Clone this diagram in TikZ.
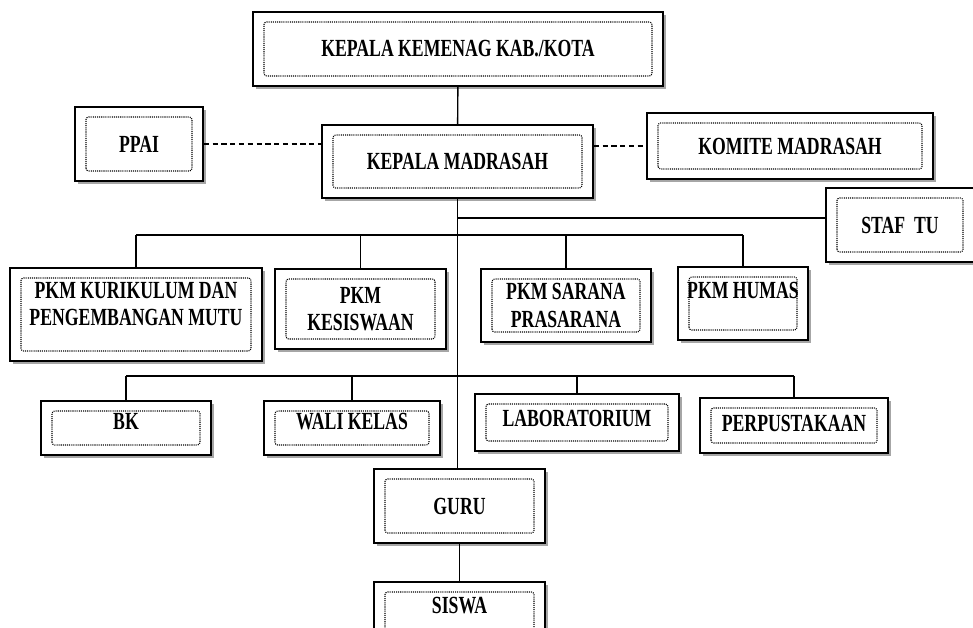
\documentclass[tikz,border=0pt]{standalone}
\usepackage{fontspec}
\setmainfont{Liberation Serif}[FakeStretch=0.72]
\usetikzlibrary{shadows,calc}

\begin{document}
\begin{tikzpicture}[x=0.02cm,y=-0.02cm]
\tikzset{kotak/.style={draw, line width=0.9pt, fill=white, rectangle, align=center, inner sep=0pt,
    font=\fontsize{14}{15.5}\selectfont\bfseries,
    drop shadow={shadow xshift=0.06cm, shadow yshift=-0.06cm, fill=gray!70, opacity=1},
    path picture={\draw[line width=0.6pt, dash pattern=on 0.6pt off 0.6pt, rounded corners=1.5pt]
      ($(path picture bounding box.south west)+(0.22cm,0.2cm)$) rectangle
      ($(path picture bounding box.north east)+(-0.22cm,-0.2cm)$);}},
  ukuran/.style 2 args={minimum width=#1*0.02cm, minimum height=#2*0.02cm},
  garis/.style={line width=0.8pt}}
\useasboundingbox (0,0) rectangle (973,628);
\clip (0,0) rectangle (973,628);
% pimpinan
\node[kotak, ukuran={410}{74}] (kemenag) at (458,49) {KEPALA KEMENAG KAB./KOTA};
\node[kotak, ukuran={128}{74}] (ppai) at (139,144) {PPAI};
\node[kotak, ukuran={271}{73}] (kamad) at (457.5,161.5) {KEPALA MADRASAH};
\node[kotak, ukuran={286}{66}] (komite) at (790,146) {KOMITE MADRASAH};
\node[kotak, ukuran={148}{74}] (staf) at (900,225) {STAF\ \ TU};
% wakil kepala
\node[kotak, ukuran={252}{93}, text depth=0.42cm] (kurikulum) at (136,314.5) {PKM KURIKULUM DAN\\PENGEMBANGAN MUTU};
\node[kotak, ukuran={171}{80}] (kesiswaan) at (360.5,309) {PKM\\KESISWAAN};
\node[kotak, ukuran={170}{73}] (sarana) at (566,305.5) {PKM SARANA\\PRASARANA};
\node[kotak, ukuran={130}{73}, text depth=0.54cm] (humas) at (743,303.5) {PKM HUMAS};
% unit
\node[kotak, ukuran={170}{54}, text depth=0.28cm] (bk) at (126,428) {BK};
\node[kotak, ukuran={176}{54}, text depth=0.28cm] (wali) at (352,428) {WALI KELAS};
\node[kotak, ukuran={204}{57}, text depth=0.18cm] (lab) at (577,422.5) {LABORATORIUM};
\node[kotak, ukuran={188}{55}, text depth=0.1cm] (perpus) at (794,425.5) {PERPUSTAKAAN};
\node[kotak, ukuran={171}{74}] (guru) at (459.5,506) {GURU};
\node[kotak, ukuran={171}{74}, text depth=0.56cm] (siswa) at (459.5,619) {SISWA};
% garis
\draw[garis] (kemenag) -- (kamad);
\draw[garis, dash pattern=on 3pt off 2pt] (ppai.east) -- (ppai.east -| kamad.west);
\draw[garis, dash pattern=on 3pt off 2pt] (komite.west -| kamad.east) -- (komite.west);
\draw[garis] (kamad.south) -- (kamad.south |- guru.north);
\coordinate (tu) at (458,218);
\draw[garis] (tu) -- (tu -| staf.west);
\coordinate (jalur1) at (458,235);
\draw[garis] (kurikulum.north |- jalur1) -- (humas.north |- jalur1);
\foreach \n in {kurikulum,kesiswaan,sarana,humas}
  \draw[garis] (\n.north |- jalur1) -- (\n.north);
\coordinate (jalur2) at (458,376);
\draw[garis] (bk.north |- jalur2) -- (perpus.north |- jalur2);
\foreach \n in {bk,wali,lab,perpus}
  \draw[garis] (\n.north |- jalur2) -- (\n.north);
\draw[garis] (guru) -- (siswa);
\end{tikzpicture}
\end{document}
